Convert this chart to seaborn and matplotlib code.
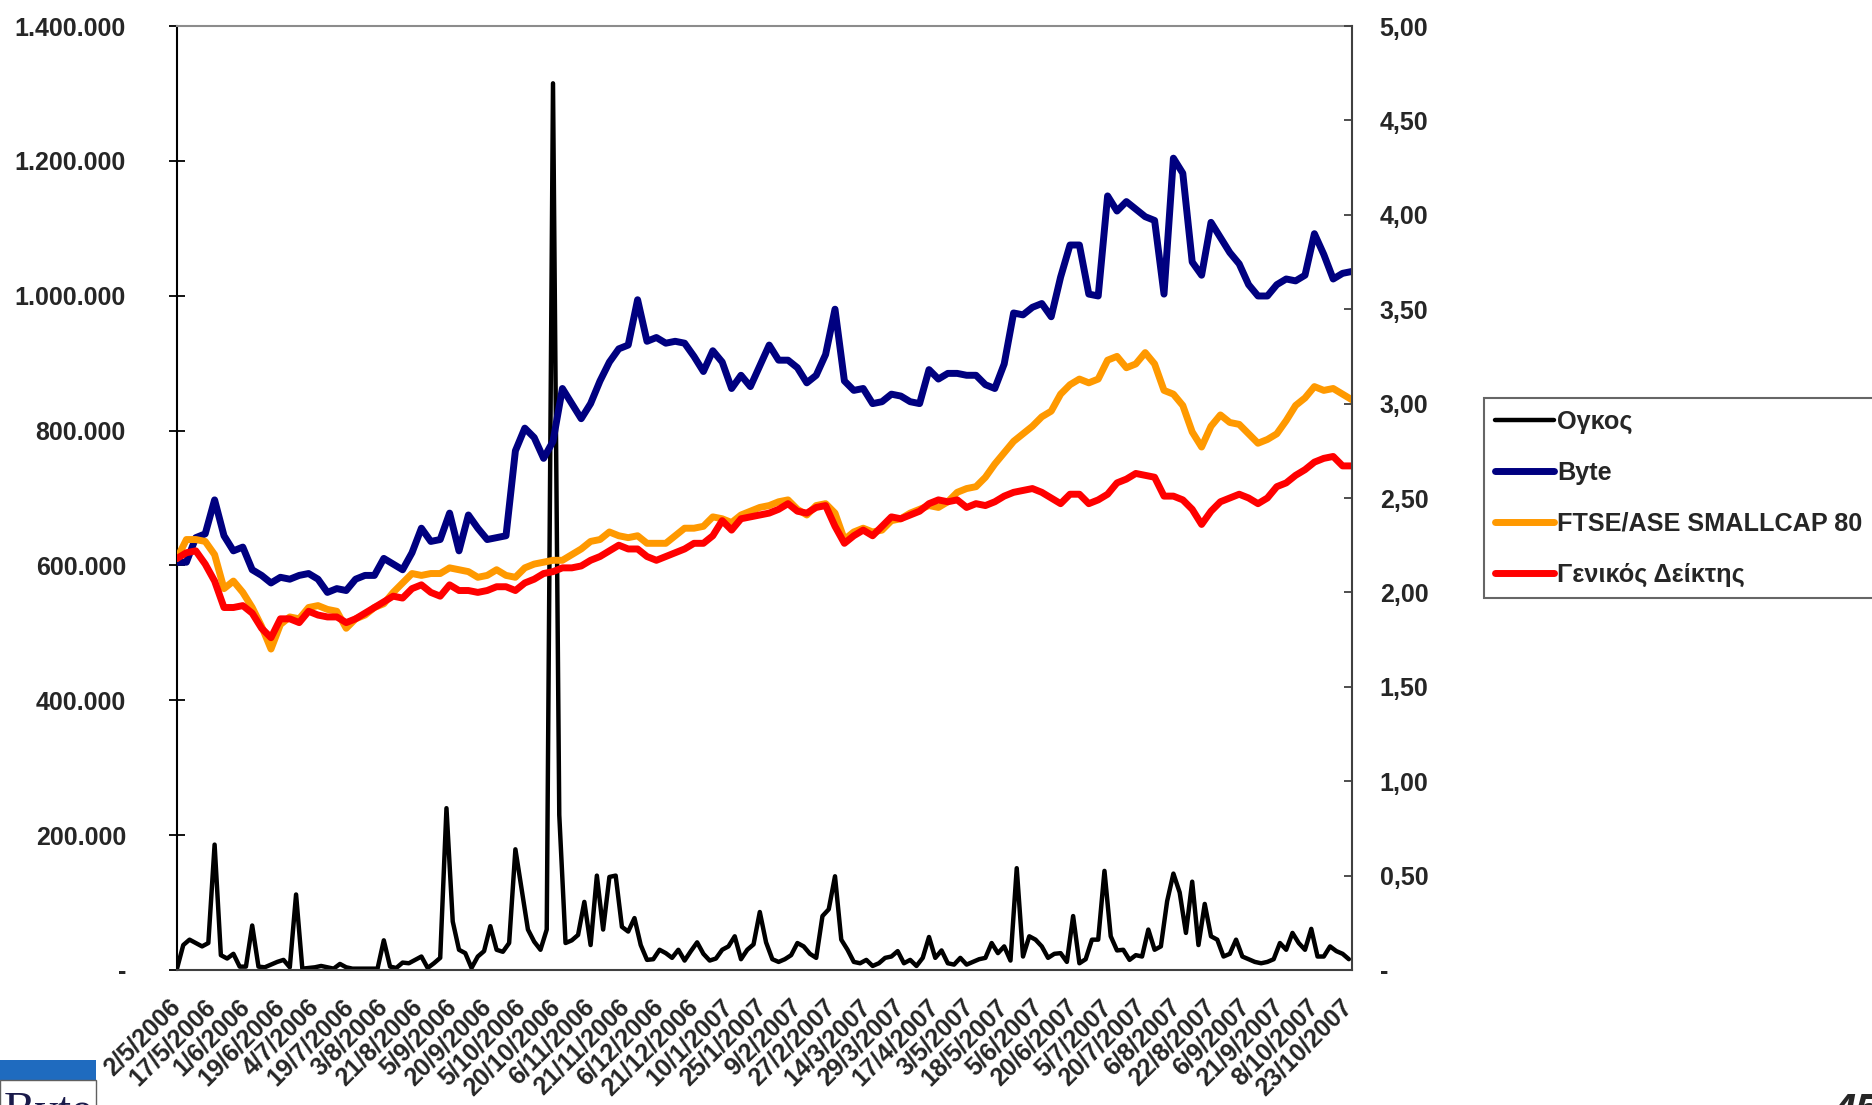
import numpy as np
import pandas as pd
import matplotlib
matplotlib.use("Agg")
import matplotlib.pyplot as plt
import seaborn as sns
from matplotlib.ticker import FuncFormatter
from matplotlib.patches import Rectangle

# --- data ---
# prices (right axis), one reading every 3 trading days starting 2/5/2006
BYTE = [
    2.16, 2.16, 2.29, 2.31, 2.49, 2.30, 2.22, 2.24, 2.12, 2.09,
    2.05, 2.08, 2.07, 2.09, 2.10, 2.07, 2.00, 2.02, 2.01, 2.07,
    2.09, 2.09, 2.18, 2.15, 2.12, 2.21, 2.34, 2.27, 2.28, 2.42,
    2.22, 2.41, 2.34, 2.28, 2.29, 2.30, 2.75, 2.87, 2.82, 2.71,
    2.80, 3.08, 3.00, 2.92, 3.00, 3.12, 3.22, 3.29, 3.31, 3.55,
    3.33, 3.35, 3.32, 3.33, 3.32, 3.25, 3.17, 3.28, 3.22, 3.08,
    3.15, 3.09, 3.20, 3.31, 3.23, 3.23, 3.19, 3.11, 3.15, 3.26,
    3.50, 3.12, 3.07, 3.08, 3.00, 3.01, 3.05, 3.04, 3.01, 3.00,
    3.18, 3.13, 3.16, 3.16, 3.15, 3.15, 3.10, 3.08, 3.21, 3.48,
    3.47, 3.51, 3.53, 3.46, 3.67, 3.84, 3.84, 3.58, 3.57, 4.10,
    4.02, 4.07, 4.03, 3.99, 3.97, 3.58, 4.30, 4.22, 3.75, 3.68,
    3.96, 3.88, 3.80, 3.74, 3.63, 3.57, 3.57, 3.63, 3.66, 3.65,
    3.68, 3.90, 3.79, 3.66, 3.69, 3.70,
]
FTSE_SMALLCAP = [
    2.18, 2.28, 2.28, 2.27, 2.20, 2.02, 2.06, 2.00, 1.92, 1.82,
    1.70, 1.83, 1.87, 1.86, 1.92, 1.93, 1.91, 1.90, 1.81, 1.86,
    1.88, 1.92, 1.94, 2.00, 2.05, 2.10, 2.09, 2.10, 2.10, 2.13,
    2.12, 2.11, 2.08, 2.09, 2.12, 2.09, 2.08, 2.13, 2.15, 2.16,
    2.17, 2.17, 2.20, 2.23, 2.27, 2.28, 2.32, 2.30, 2.29, 2.30,
    2.26, 2.26, 2.26, 2.30, 2.34, 2.34, 2.35, 2.40, 2.39, 2.37,
    2.41, 2.43, 2.45, 2.46, 2.48, 2.49, 2.44, 2.41, 2.46, 2.47,
    2.42, 2.28, 2.32, 2.34, 2.32, 2.33, 2.38, 2.39, 2.42, 2.44,
    2.46, 2.45, 2.48, 2.53, 2.55, 2.56, 2.61, 2.68, 2.74, 2.80,
    2.84, 2.88, 2.93, 2.96, 3.05, 3.10, 3.13, 3.11, 3.13, 3.23,
    3.25, 3.19, 3.21, 3.27, 3.21, 3.07, 3.05, 2.99, 2.85, 2.77,
    2.88, 2.94, 2.90, 2.89, 2.84, 2.79, 2.81, 2.84, 2.91, 2.99,
    3.03, 3.09, 3.07, 3.08, 3.05, 3.02,
]
GENERAL_INDEX = [
    2.18, 2.21, 2.22, 2.15, 2.06, 1.92, 1.92, 1.93, 1.89, 1.81,
    1.76, 1.86, 1.86, 1.84, 1.90, 1.88, 1.87, 1.87, 1.84, 1.86,
    1.89, 1.92, 1.95, 1.98, 1.97, 2.02, 2.04, 2.00, 1.98, 2.04,
    2.01, 2.01, 2.00, 2.01, 2.03, 2.03, 2.01, 2.05, 2.07, 2.10,
    2.11, 2.13, 2.13, 2.14, 2.17, 2.19, 2.22, 2.25, 2.23, 2.23,
    2.19, 2.17, 2.19, 2.21, 2.23, 2.26, 2.26, 2.30, 2.38, 2.33,
    2.39, 2.40, 2.41, 2.42, 2.44, 2.47, 2.43, 2.42, 2.45, 2.46,
    2.35, 2.26, 2.30, 2.33, 2.30, 2.35, 2.40, 2.39, 2.41, 2.43,
    2.47, 2.49, 2.48, 2.49, 2.45, 2.47, 2.46, 2.48, 2.51, 2.53,
    2.54, 2.55, 2.53, 2.50, 2.47, 2.52, 2.52, 2.47, 2.49, 2.52,
    2.58, 2.60, 2.63, 2.62, 2.61, 2.51, 2.51, 2.49, 2.44, 2.36,
    2.43, 2.48, 2.50, 2.52, 2.50, 2.47, 2.50, 2.56, 2.58, 2.62,
    2.65, 2.69, 2.71, 2.72, 2.67, 2.67,
]
# volume (left axis) in thousands of shares, one reading every 2 trading days
VOLUME_K = [
    2, 37, 45, 40, 35, 40, 186, 22, 17, 24,
    5, 5, 66, 5, 4, 8, 12, 15, 4, 112,
    2, 3, 4, 6, 4, 2, 9, 4, 2, 2,
    2, 2, 2, 44, 5, 3, 11, 10, 15, 20,
    3, 10, 18, 240, 72, 30, 25, 3, 20, 28,
    65, 30, 27, 40, 179, 120, 60, 42, 30, 60,
    1315, 230, 40, 44, 52, 101, 37, 140, 60, 138,
    140, 64, 57, 77, 37, 15, 16, 30, 25, 18,
    30, 14, 28, 41, 24, 14, 17, 30, 35, 50,
    16, 30, 38, 86, 41, 16, 12, 16, 22, 40,
    35, 24, 18, 80, 90, 139, 45, 30, 12, 10,
    15, 6, 10, 18, 20, 28, 10, 15, 6, 18,
    49, 18, 29, 10, 8, 18, 8, 12, 16, 18,
    40, 25, 35, 14, 151, 20, 50, 45, 35, 18,
    24, 25, 12, 80, 10, 16, 45, 45, 147, 50,
    29, 30, 15, 22, 20, 60, 30, 35, 102, 143,
    115, 55, 131, 37, 98, 50, 45, 20, 24, 45,
    20, 16, 12, 10, 12, 16, 40, 30, 55, 40,
    30, 61, 20, 20, 35, 28, 24, 16,
]
# category labels, one every 11 trading days
TICK_DATES = [
    "2/5/2006", "17/5/2006", "1/6/2006", "19/6/2006", "4/7/2006",
    "19/7/2006", "3/8/2006", "21/8/2006", "5/9/2006", "20/9/2006",
    "5/10/2006", "20/10/2006", "6/11/2006", "21/11/2006", "6/12/2006",
    "21/12/2006", "10/1/2007", "25/1/2007", "9/2/2007", "27/2/2007",
    "14/3/2007", "29/3/2007", "17/4/2007", "3/5/2007", "18/5/2007",
    "5/6/2007", "20/6/2007", "5/7/2007", "20/7/2007", "6/8/2007",
    "22/8/2007", "6/9/2007", "21/9/2007", "8/10/2007", "23/10/2007",
]
VOLUME_NAME = "Ογκος"
PRICE_NAMES = ["Byte", "FTSE/ASE SMALLCAP 80", "Γενικός Δείκτης"]
COLORS = {"Byte": "#000080", "FTSE/ASE SMALLCAP 80": "#FF9900",
          "Γενικός Δείκτης": "#FF0000"}

assert len(BYTE) == len(FTSE_SMALLCAP) == len(GENERAL_INDEX) == 126
assert len(VOLUME_K) == 188

vol_df = pd.DataFrame({"day": np.arange(len(VOLUME_K)) * 2,
                       "volume": np.array(VOLUME_K) * 1000})
price_df = pd.DataFrame({"day": np.arange(len(BYTE)) * 3,
                         PRICE_NAMES[0]: BYTE,
                         PRICE_NAMES[1]: FTSE_SMALLCAP,
                         PRICE_NAMES[2]: GENERAL_INDEX})
price_long = price_df.melt(id_vars="day", var_name="series", value_name="price")

# --- drawing ---
sns.set_style("white")
plt.rcParams["font.family"] = ["Liberation Sans", "DejaVu Sans"]
plt.rcParams["font.weight"] = "bold"
fs = 18

W, H = 1872, 1105
fig = plt.figure(figsize=(W / 100, H / 100), dpi=100)
ax = fig.add_axes([177 / W, 1 - 970 / H, (1352 - 177) / W, (970 - 26) / H])

sns.lineplot(data=vol_df, x="day", y="volume", color="black", linewidth=3.2,
             estimator=None, ax=ax, legend=False)

ax2 = ax.twinx()
sns.lineplot(data=price_long, x="day", y="price", hue="series",
             hue_order=PRICE_NAMES, palette=COLORS, linewidth=5,
             estimator=None, ax=ax2, legend=False)

for line in ax.get_lines() + ax2.get_lines():
    line.set_solid_joinstyle("round")
    line.set_solid_capstyle("round")

ax.set_xlim(0, 375)
ax.set_ylim(0, 1400000)
ax2.set_ylim(0, 5)
ax.set_xlabel("")
ax.set_ylabel("")
ax2.set_ylabel("")

ax.set_yticks(np.arange(0, 1400001, 200000))
ax.yaxis.set_major_formatter(FuncFormatter(
    lambda v, p: "-" if v == 0 else f"{v:,.0f}".replace(",", ".")))
ax2.set_yticks(np.arange(0, 5.01, 0.5))
ax2.yaxis.set_major_formatter(FuncFormatter(
    lambda v, p: "-" if v == 0 else f"{v:.2f}".replace(".", ",")))

# anchoring on the right-centre pulls each rotated date back onto its tick
ax.set_xticks(np.arange(len(TICK_DATES)) * 11)
ax.set_xticklabels(TICK_DATES, rotation=45, ha="right", va="center",
                   rotation_mode="anchor")

ax.tick_params(axis="y", direction="inout", length=11.5, width=1.3,
               pad=31, labelsize=fs, color="black")
ax.tick_params(axis="x", length=0, pad=24, labelsize=fs)
ax2.tick_params(axis="y", direction="in", length=6, width=1.3, pad=20,
                labelsize=fs, color="#404040")

for name, sp in ax.spines.items():
    sp.set_linewidth(1.5)
ax.spines["left"].set_color("black")
ax.spines["bottom"].set_color("#404040")
ax.spines["top"].set_color("#8c8c8c")
ax.spines["right"].set_visible(False)
for name in ["left", "top", "bottom"]:
    ax2.spines[name].set_visible(False)
ax2.spines["right"].set_color("#404040")
ax2.spines["right"].set_linewidth(1.5)

handles = ax.get_lines() + ax2.get_lines()
labels = [VOLUME_NAME] + PRICE_NAMES
leg = fig.legend(handles, labels, loc="upper left",
                 bbox_to_anchor=(1484 / W, 1 - 398 / H),
                 prop={"size": 18.2, "weight": "bold"},
                 frameon=True, fancybox=False, shadow=False,
                 borderpad=0.45, labelspacing=1.07, handlelength=2.3,
                 handletextpad=0.15, borderaxespad=0)
leg.get_frame().set_edgecolor("#404040")
leg.get_frame().set_linewidth(1.5)

# slide leftovers: cut-off logo at bottom left and page number at bottom right
fig.add_artist(Rectangle((0, 1 - 1080 / H), 96 / W, 20 / H,
                         transform=fig.transFigure, color="#1f6bbf", lw=0))
fig.add_artist(Rectangle((0, 1 - 1110 / H), 96 / W, 30 / H,
                         transform=fig.transFigure, facecolor="white",
                         edgecolor="#606060", lw=1))
fig.text(4 / W, 1 - 1092 / H, "Byte", fontsize=34, family="Liberation Serif",
         color="#1a1a4a", va="top", ha="left", fontweight="normal")
fig.text(1833 / W, 1 - 1092 / H, "45", fontsize=30, style="italic",
         va="top", ha="left")

fig.savefig("out.png", dpi=100)
